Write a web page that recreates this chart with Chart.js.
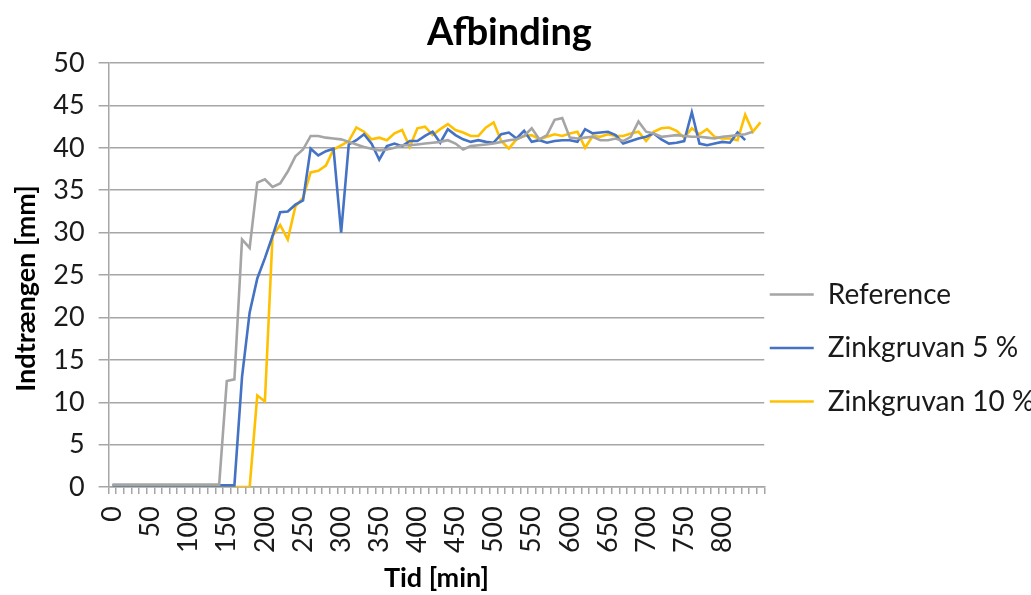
<!DOCTYPE html>
<html>
<head>
<meta charset="utf-8">
<script src="https://cdn.jsdelivr.net/npm/chart.js@4.4.1/dist/chart.umd.min.js"></script>
<style>
  html, body { margin: 0; padding: 0; background: #fff; }
  #wrap { width: 1031px; height: 595px; }
</style>
</head>
<body>
<div id="wrap"><canvas id="chart" width="1031" height="595"></canvas></div>
<script>
"use strict";
// time axis (min); the last row has no time label
const times = [0, 10, 20, 30, 40, 50, 60, 70, 80, 90, 100, 110, 120, 130, 140, 150, 160, 170, 180, 190,
    200, 210, 220, 230, 240, 250, 260, 270, 280, 290, 300, 310, 320, 330, 340, 350, 360, 370, 380, 390,
    400, 410, 420, 430, 440, 450, 460, 470, 480, 490, 500, 510, 520, 530, 540, 550, 560, 570, 580, 590,
    600, 610, 620, 630, 640, 650, 660, 670, 680, 690, 700, 710, 720, 730, 740, 750, 760, 770, 780, 790,
    800, 810, 820, 830, 840, ""];

const reference = [0.3, 0.3, 0.3, 0.3, 0.3, 0.3, 0.3, 0.3, 0.3, 0.3, 0.3, 0.3, 0.3, 0.3, 0.3,
    12.5, 12.7, 29.2, 28.2, 35.9, 36.3, 35.4, 35.8, 37.2, 39.0, 39.8, 41.4, 41.4, 41.2, 41.1,
    41.0, 40.7, 40.4, 40.1, 39.9, 39.7, 39.8, 40.0, 40.3, 40.3, 40.4, 40.5, 40.6, 40.7, 40.9,
    40.5, 39.8, 40.2, 40.3, 40.4, 40.5, 40.7, 40.9, 41.0, 41.4, 42.3, 41.0, 41.5, 43.3, 43.5,
    41.2, 41.1, 41.2, 41.3, 40.9, 40.9, 41.1, 40.8, 41.3, 43.1, 41.9, 41.7, 41.3, 41.4, 41.5,
    41.4, 41.3, 41.3, 41.2, 41.1, 41.3, 41.4, 41.5, 41.6, 41.9];

const zink5 = [0.2, 0.2, 0.2, 0.2, 0.2, 0.2, 0.2, 0.2, 0.2, 0.2, 0.2, 0.2, 0.2, 0.2, 0.2, 0.2, 0.2,
    13.0, 20.6, 24.6, 27.0, 29.6, 32.4, 32.5, 33.3, 33.8, 39.9, 39.1, 39.6, 39.9,
    30.0, 40.4, 40.9, 41.6, 40.5, 38.6, 40.2, 40.5, 40.2, 40.8, 40.8, 41.4, 41.9, 40.6, 42.2,
    41.5, 41.0, 40.7, 40.9, 40.7, 40.6, 41.6, 41.8, 41.1, 42.0, 40.7, 40.9, 40.6, 40.8, 40.9,
    40.9, 40.7, 42.2, 41.7, 41.8, 41.9, 41.5, 40.5, 40.8, 41.1, 41.3, 41.7, 41.0, 40.5, 40.6,
    40.8, 44.2, 40.5, 40.3, 40.5, 40.7, 40.6, 41.8, 40.9];

const zink10 = [0, 0, 0, 0, 0, 0, 0, 0, 0, 0, 0, 0, 0, 0, 0, 0, 0, 0, 0,
    10.8, 10.1, 29.6, 30.9, 29.2, 33.1, 34.1, 37.1, 37.3, 37.9, 39.8,
    40.3, 40.8, 42.4, 41.9, 41.0, 41.2, 40.9, 41.7, 42.1, 40.1, 42.3, 42.5, 41.5, 42.2, 42.8,
    42.1, 41.8, 41.4, 41.4, 42.4, 43.0, 40.8, 39.9, 41.0, 41.4, 41.5, 41.0, 41.3, 41.6, 41.4,
    41.7, 41.9, 40.0, 41.4, 41.3, 41.6, 41.4, 41.4, 41.7, 41.9, 40.8, 41.9, 42.3, 42.4, 42.0,
    41.2, 42.3, 41.6, 42.2, 41.3, 41.1, 41.1, 40.9, 43.9, 41.9, 43.0];

const seriesNames = ["Reference", "Zinkgruvan 5 %", "Zinkgruvan 10 %"];
const seriesColors = ["#a5a5a5", "#4472c4", "#ffc000"];

const FONT = "Lato, 'Open Sans', sans-serif";
const TEXT = "#1a1a1a";
const GRID = "#a6a6a6";

// legend box is capped at a quarter of the canvas width; let its text use the free margin to the right
const legendRoom = {
    id: "legendRoom",
    afterLayout(chart) {
        const legend = chart.legend;
        legend.right = chart.width;
        legend.width = legend.right - legend.left;
    },
};

document.addEventListener("DOMContentLoaded", () => {
    const ctx = document.getElementById("chart").getContext("2d");
    const datasets = [reference, zink5, zink10].map((values, i) => ({
        label: seriesNames[i],
        data: values,
        borderColor: seriesColors[i],
        backgroundColor: seriesColors[i],
        borderWidth: 2.6,
        pointRadius: 0,
        tension: 0,
        fill: false,
    }));

    new Chart(ctx, {
        type: "line",
        data: { labels: times, datasets: datasets },
        plugins: [legendRoom],
        options: {
            responsive: false,
            animation: false,
            events: [],
            layout: { padding: { left: 0, right: 12, top: 0, bottom: 0 } },
            plugins: {
                title: {
                    display: true,
                    text: "Afbinding",
                    color: "#000",
                    font: { family: FONT, size: 38, weight: "bold" },
                    padding: { top: 10.2, bottom: 7.2 },
                },
                legend: {
                    position: "right",
                    // empty title only pushes the entries down like in the original
                    title: { display: true, text: " ", font: { size: 12 }, padding: { top: 106.6, bottom: 0 } },
                    labels: {
                        usePointStyle: true,
                        pointStyle: "line",
                        pointStyleWidth: 44,
                        padding: 5.5,
                        color: TEXT,
                        font: { family: FONT, size: 28, lineHeight: "48px" },
                        generateLabels: (chart) =>
                            Chart.defaults.plugins.legend.labels.generateLabels(chart)
                                .map((item) => Object.assign(item, { text: [item.text] })),
                    },
                },
                tooltip: { enabled: false },
            },
            scales: {
                x: {
                    type: "category",
                    offset: true,
                    grid: { offset: true, drawOnChartArea: false, tickLength: 7, color: GRID, lineWidth: 1.5 },
                    border: { color: GRID, width: 1.5 },
                    ticks: {
                        autoSkip: false,
                        minRotation: 90,
                        maxRotation: 90,
                        padding: 12,
                        color: TEXT,
                        font: { family: FONT, size: 27 },
                        callback: (value, index) => (index % 5 === 0 ? times[index] : ""),
                    },
                    title: {
                        display: true,
                        text: "Tid [min]",
                        color: "#000",
                        font: { family: FONT, size: 27, weight: "bold", lineHeight: 1 },
                        padding: { top: 0, bottom: 2.9 },
                    },
                },
                y: {
                    min: 0,
                    max: 50,
                    grid: { color: GRID, lineWidth: 1.5, tickLength: 10 },
                    border: { color: GRID, width: 1.5 },
                    ticks: {
                        stepSize: 5,
                        padding: 14,
                        color: TEXT,
                        font: { family: FONT, size: 27 },
                    },
                    title: {
                        display: true,
                        // two en spaces at the end move the centred text a bit lower, as in the original
                        text: "Indtrængen [mm]\u2002\u2002",
                        color: "#000",
                        font: { family: FONT, size: 27, weight: "bold", lineHeight: 1 },
                        padding: { top: 12.3, bottom: 0 },
                    },
                },
            },
        },
    });
});
</script>
</body>
</html>
